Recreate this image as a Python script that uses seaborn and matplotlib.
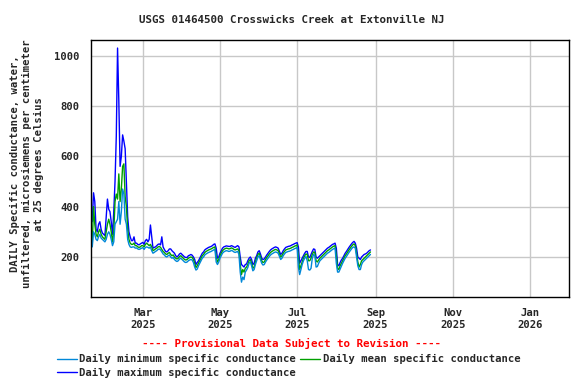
import numpy as np
import pandas as pd
import matplotlib
matplotlib.use('Agg')
import matplotlib.pyplot as plt
import matplotlib.dates as mdates
import seaborn as sns

sns.set_style('white')
plt.rcParams['font.family'] = ['DejaVu Sans Mono']
plt.rcParams['font.weight'] = 'bold'
plt.rcParams['font.size'] = 7.6

# daily values from 2025-01-20, microsiemens per cm at 25 C
start_date = '2025-01-20'

daily_mean = [
    250, 400, 330, 290, 280, 300, 310, 290, 280, 275,
    270, 300, 330, 350, 330, 300, 260, 300, 420, 450,
    430, 530, 420, 470, 560, 570, 440, 400, 310, 270,
    255, 250, 250, 255, 245, 245, 240, 238, 240, 245,
    245, 240, 250, 255, 250, 245, 250, 240, 225, 228,
    232, 235, 240, 242, 238, 230, 222, 218, 212, 210,
    215, 218, 210, 205, 208, 200, 195, 192, 195, 202,
    205, 200, 195, 190, 188, 190, 195, 198, 200, 198,
    190, 175, 158, 165, 175, 185, 195, 205, 210, 218,
    222, 225, 228, 230, 232, 235, 238, 240, 200, 180,
    190, 205, 215, 225, 230, 233, 235, 234, 232, 233,
    236, 234, 230, 228, 230, 232, 225, 170, 130, 150,
    140, 155, 160, 170, 185, 190, 175, 155, 160, 180,
    195, 210, 215, 200, 185, 178, 180, 190, 198, 205,
    212, 218, 222, 225, 228, 230, 228, 225, 212, 200,
    205, 215, 222, 228, 230, 232, 233, 235, 238, 240,
    243, 245, 248, 200, 150, 165, 180, 195, 205, 212,
    210, 185, 185, 195, 210, 220, 218, 185, 180, 188,
    195, 200, 205, 210, 215, 220, 225, 228, 232, 236,
    240, 243, 245, 205, 155, 150, 165, 175, 185, 195,
    205, 212, 220, 228, 235, 242, 248, 252, 245, 215,
    180, 160, 170, 185, 190, 195, 200, 205, 210, 215,
    220,
]

daily_min = [
    240, 300, 290, 270, 265, 280, 290, 275, 270, 265,
    260, 270, 290, 300, 290, 270, 245, 260, 330, 340,
    350, 420, 330, 380, 470, 450, 350, 330, 270, 250,
    240, 238, 240, 240, 235, 236, 232, 230, 232, 235,
    237, 230, 238, 240, 238, 235, 240, 225, 215, 218,
    222, 225, 230, 232, 228, 220, 212, 208, 202, 200,
    205, 208, 200, 195, 198, 190, 185, 182, 185, 192,
    195, 190, 185, 180, 178, 180, 185, 188, 190, 188,
    178, 160, 148, 152, 165, 175, 185, 195, 200, 208,
    212, 215, 218, 220, 222, 225, 228, 230, 180, 170,
    180, 195, 205, 215, 220, 223, 225, 224, 222, 223,
    226, 224, 220, 218, 220, 222, 210, 140, 100, 120,
    110, 140, 148, 158, 175, 180, 165, 145, 150, 170,
    185, 200, 205, 190, 175, 168, 170, 180, 188, 195,
    202, 208, 212, 215, 218, 220, 218, 215, 202, 190,
    195, 205, 212, 218, 220, 222, 223, 225, 228, 230,
    233, 235, 238, 160, 130, 150, 170, 185, 195, 202,
    185, 150, 148, 155, 195, 210, 205, 160, 162, 175,
    185, 190, 195, 200, 205, 210, 215, 218, 222, 226,
    230, 233, 235, 175, 140, 140, 152, 165, 175, 185,
    195, 202, 210, 218, 225, 232, 238, 240, 235, 200,
    165, 150, 150, 170, 180, 185, 190, 195, 200, 205,
    210,
]

daily_max = [
    340, 455, 420, 310, 300, 330, 340, 310, 295, 290,
    285, 360, 430, 390, 380, 340, 290, 380, 500, 680,
    1030, 820, 560, 600, 685, 660, 630, 500, 360, 300,
    280, 265, 265, 280, 255, 255, 250, 248, 252, 255,
    258, 250, 265, 270, 260, 270, 327, 280, 235, 238,
    240, 245, 250, 252, 248, 280, 240, 230, 222, 220,
    225, 232, 232, 225, 220, 215, 205, 200, 205, 212,
    215, 210, 205, 200, 198, 198, 205, 207, 210, 207,
    200, 190, 170, 178, 185, 195, 205, 215, 220, 228,
    232, 235, 238, 240, 242, 245, 250, 252, 235, 195,
    200, 215, 225, 235, 240, 242, 244, 243, 242, 242,
    245, 243, 240, 238, 242, 245, 240, 200, 170, 165,
    160, 170, 172, 185, 195, 200, 190, 170, 175, 195,
    205, 220, 225, 212, 195, 190, 192, 200, 208, 215,
    222, 228, 232, 235, 238, 240, 238, 235, 222, 210,
    215, 225, 232, 238, 240, 242, 243, 245, 248, 250,
    253, 255, 257, 240, 175, 185, 195, 205, 215, 222,
    222, 200, 198, 210, 222, 232, 230, 200, 195, 200,
    205, 210, 215, 220, 225, 230, 235, 238, 242, 246,
    250, 252, 255, 235, 170, 165, 178, 188, 195, 205,
    215, 222, 230, 238, 245, 252, 258, 262, 255, 235,
    200, 195, 190, 200, 205, 210, 212, 215, 220, 225,
    228,
]

assert len(daily_mean) == len(daily_min) == len(daily_max)
dates = pd.date_range(start_date, periods=len(daily_mean), freq='D')

df = pd.DataFrame({'date': dates, 'min': daily_min, 'mean': daily_mean, 'max': daily_max})

fig = plt.figure(figsize=(5.76, 3.84), dpi=100)
ax = fig.add_axes([91 / 576, 1 - 297 / 384, (569 - 91) / 576, (297 - 40) / 384])

c_min = '#0088d8'
c_mean = '#00a000'
c_max = '#0000ff'

sns.lineplot(data=df, x='date', y='max', ax=ax, color=c_max, lw=1,
             label='Daily maximum specific conductance')
sns.lineplot(data=df, x='date', y='mean', ax=ax, color=c_mean, lw=1,
             label='Daily mean specific conductance')
sns.lineplot(data=df, x='date', y='min', ax=ax, color=c_min, lw=1,
             label='Daily minimum specific conductance')

ax.set_xlim(pd.Timestamp('2025-01-19'), pd.Timestamp('2026-02-01'))
ax.set_ylim(41, 1062)
ax.set_yticks([200, 400, 600, 800, 1000])
ax.xaxis.set_major_locator(mdates.MonthLocator(bymonth=[1, 3, 5, 7, 9, 11]))
ax.xaxis.set_major_formatter(mdates.DateFormatter('%b\n%Y'))
ax.tick_params(length=0, pad=8)
ax.grid(True, color='#c8c8c8', lw=1)
ax.set_axisbelow(True)
for s in ax.spines.values():
    s.set_color('black')
    s.set_linewidth(1)
ax.set_xlabel('')
ax.set_ylabel('')
for lbl in ax.get_xticklabels() + ax.get_yticklabels():
    lbl.set_fontweight('bold')
for lbl in ax.get_xticklabels():
    lbl.set_multialignment('center')

handles, labels = ax.get_legend_handles_labels()
ax.get_legend().remove()
order = [2, 0, 1]
fig.legend([handles[i] for i in order], [labels[i] for i in order],
           loc='upper left', bbox_to_anchor=(52 / 576, 1 - 349 / 384), ncol=2,
           frameon=False, borderpad=0, handlelength=1.9, handletextpad=0.2,
           columnspacing=0.4, labelspacing=0.35,
           prop={'size': 7.6, 'weight': 'bold'})

fig.text(292 / 576, 1 - 20 / 384, 'USGS 01464500 Crosswicks Creek at Extonville NJ',
         ha='center', va='center', fontsize=7.8, fontweight='bold')
fig.text(292 / 576, 1 - 343 / 384, '---- Provisional Data Subject to Revision ----',
         ha='center', va='center', color='red', fontsize=7.8, fontweight='bold')
fig.text(27 / 576, 1 - 164 / 384,
         'DAILY Specific conductance, water,\nunfiltered, microsiemens per centimeter\nat 25 degrees Celsius',
         rotation=90, ha='center', va='center', multialignment='center',
         fontsize=7.6, fontweight='bold', linespacing=1.3)

fig.savefig('out.png', dpi=100)
